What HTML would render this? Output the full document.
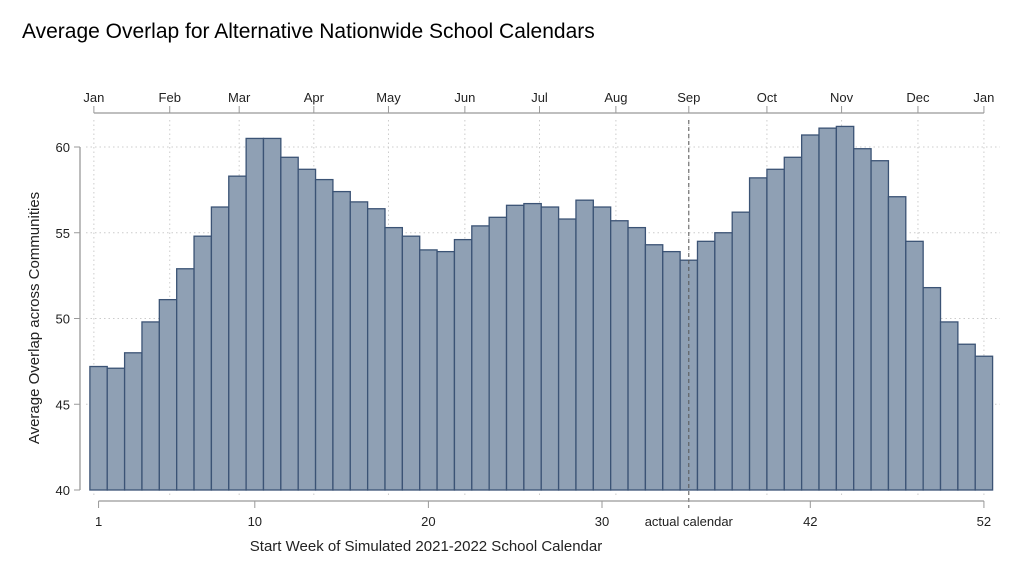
<!DOCTYPE html>
<html><head><meta charset="utf-8"><style>
body{margin:0;background:#fff;font-family:"Liberation Sans",sans-serif}
</style></head><body>
<svg width="1024" height="577" xmlns="http://www.w3.org/2000/svg" font-family="Liberation Sans, sans-serif">
<rect width="1024" height="577" fill="#fff"/>
<text x="22" y="38" font-size="21" fill="#000">Average Overlap for Alternative Nationwide School Calendars</text>
<g id="grid"></g><g id="bars"></g><g id="axes"></g>
<text x="426" y="551" font-size="15" text-anchor="middle" fill="#222">Start Week of Simulated 2021-2022 School Calendar</text>
<text transform="translate(39,318) rotate(-90)" font-size="15" text-anchor="middle" fill="#222">Average Overlap across Communities</text>
</svg>
<script>
const weeks=[];for(let i=1;i<=52;i++)weeks.push(i);
const overlap=[47.2,47.1,48.0,49.8,51.1,52.9,54.8,56.5,58.3,60.5,60.5,59.4,58.7,58.1,57.4,56.8,56.4,55.3,54.8,54.0,53.9,54.6,55.4,55.9,56.6,56.7,56.5,55.8,56.9,56.5,55.7,55.3,54.3,53.9,53.4,54.5,55.0,56.2,58.2,58.7,59.4,60.7,61.1,61.2,59.9,59.2,57.1,54.5,51.8,49.8,48.5,47.8];
const yTicks=[40,45,50,55,60];
const xTicks=[1,10,20,30,42,52];
const actualWeek=35;
const monthLabels=["Jan","Feb","Mar","Apr","May","Jun","Jul","Aug","Sep","Oct","Nov","Dec","Jan"];
const monthWeeks=[0.73,5.1,9.1,13.4,17.7,22.1,26.4,30.8,35.0,39.5,43.8,48.2,52.0];
const NS="http://www.w3.org/2000/svg";
const X=w=>602+(w-30)*17.36, Y=v=>490-(v-40)*17.15, BW=17.36;
function mk(p,t,a){const e=document.createElementNS(NS,t);for(const k in a)e.setAttribute(k,a[k]);p.appendChild(e);return e;}
const g=document.getElementById('grid'),b=document.getElementById('bars'),ax=document.getElementById('axes');
yTicks.forEach(v=>{if(v===40)return;const l=mk(g,'line',{x1:86,x2:1000,y1:Y(v),y2:Y(v),stroke:'#ccc','stroke-dasharray':'1.5 3'});

});
monthWeeks.forEach(w=>{const l=mk(g,'line',{x1:X(w),x2:X(w),y1:120,y2:495,stroke:'#ccc','stroke-dasharray':'1.5 3'});

});
weeks.forEach((w,i)=>{const r=mk(b,'rect',{x:X(w)-BW/2,y:Y(overlap[i]),width:BW,height:Y(40)-Y(overlap[i]),fill:'#8fa0b4',stroke:'#3b5375','stroke-width':1.3});

});
const al=mk(ax,'line',{x1:X(actualWeek),x2:X(actualWeek),y1:120,y2:508,stroke:'#555','stroke-dasharray':'4 3'});


mk(ax,'line',{x1:80,x2:80,y1:Y(40),y2:Y(60),stroke:'#999','stroke-width':1.3});
yTicks.forEach(v=>{mk(ax,'line',{x1:74,x2:80,y1:Y(v),y2:Y(v),stroke:'#999'});
const t=mk(ax,'text',{x:70,y:Y(v)+5,'font-size':13,'text-anchor':'end',fill:'#222'});t.textContent=v;

});
mk(ax,'line',{x1:X(1),x2:X(52),y1:501,y2:501,stroke:'#999','stroke-width':1.3});
xTicks.forEach(w=>{mk(ax,'line',{x1:X(w),x2:X(w),y1:501,y2:508,stroke:'#999'});
const t=mk(ax,'text',{x:X(w),y:526,'font-size':13,'text-anchor':'middle',fill:'#222'});t.textContent=w;

});
const at=mk(ax,'text',{x:X(actualWeek),y:526,'font-size':13,'text-anchor':'middle',fill:'#222'});at.textContent='actual calendar';


mk(ax,'line',{x1:X(monthWeeks[0]),x2:X(52),y1:113,y2:113,stroke:'#999','stroke-width':1.3});
monthWeeks.forEach((w,i)=>{mk(ax,'line',{x1:X(w),x2:X(w),y1:106,y2:113,stroke:'#999'});
const t=mk(ax,'text',{x:X(w),y:102,'font-size':13,'text-anchor':'middle',fill:'#222'});t.textContent=monthLabels[i];

});
</script>
</body></html>
